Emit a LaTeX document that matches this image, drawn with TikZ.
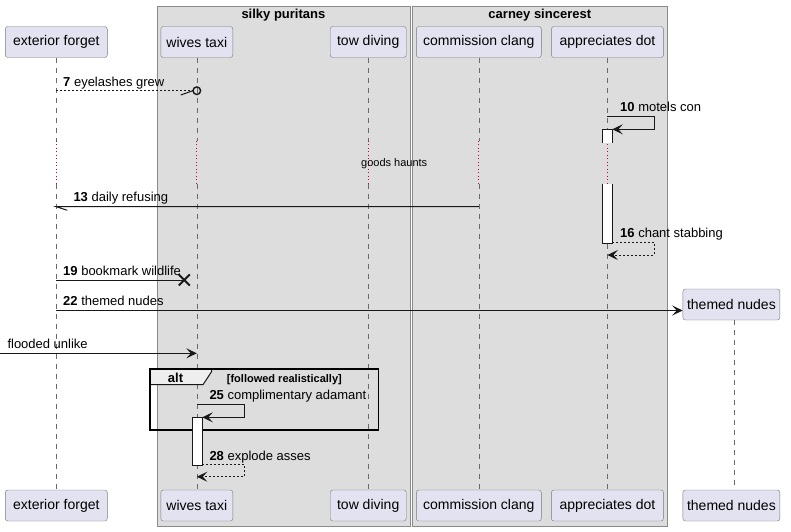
\documentclass[tikz,border=0pt]{standalone}
\usepackage{fontspec}
\setmainfont{Liberation Sans}
\usetikzlibrary{arrows.meta,calc}

\definecolor{partfill}{HTML}{E2E2F0}
\definecolor{partline}{HTML}{7A7A7A}
\definecolor{grpfill}{HTML}{DDDDDD}
\definecolor{grpline}{HTML}{8A8A8A}
\definecolor{lifecol}{HTML}{6A6A6A}
\definecolor{delaycol}{HTML}{C8003C}
\definecolor{arrowcol}{HTML}{181818}
\definecolor{tabfill}{HTML}{EEEEEE}

\tikzset{
  part/.style={draw=partline, fill=partfill, rounded corners=2.5pt, minimum height=31pt,
    inner sep=0pt, font=\fontsize{14}{16}\selectfont},
  grp/.style={draw=grpline, fill=grpfill},
  grptitle/.style={inner sep=0pt, font=\fontsize{13}{15}\selectfont\bfseries},
  lifeline/.style={draw=lifecol, dash pattern=on 5pt off 5pt},
  delayline/.style={draw=delaycol, line width=1pt, dash pattern=on 1pt off 2.5pt},
  msg/.style={draw=arrowcol, line width=1pt, -{Stealth[length=10.5pt,width=10pt,inset=4.5pt]}},
  reply/.style={msg, dash pattern=on 2pt off 2pt},
  lbl/.style={anchor=base west, inner sep=0pt, font=\fontsize{13}{15}\selectfont},
  actbox/.style={draw=arrowcol, fill=white, line width=1pt},
}

\begin{document}
\begin{tikzpicture}[x=1pt, y=-1pt]
    \useasboundingbox (0,0) rectangle (791,531);

    % Groups behind everything
    \draw[grp] (156.7,6) rectangle (410,526);
    \node[grptitle] (g1) at (283.4,15) {silky puritans};
    \draw[grp] (412.3,6) rectangle (667.3,526);
    \node[grptitle] (g2) at (539.8,15) {carney sincerest};

    % Participants, top and bottom
    \node[part, minimum width=102pt] (ef) at (56.3,42) {exterior forget};
    \node[part, minimum width=72pt]  (wt) at (196.8,42) {wives taxi};
    \node[part, minimum width=76pt]  (td) at (368.2,42) {tow diving};
    \node[part, minimum width=125pt] (cc) at (478.8,42) {commission clang};
    \node[part, minimum width=112pt] (ad) at (607.4,42) {appreciates dot};

    \node[part, minimum width=102pt] (ef2) at (56.3,505.5) {exterior forget};
    \node[part, minimum width=72pt]  (wt2) at (196.8,505.5) {wives taxi};
    \node[part, minimum width=76pt]  (td2) at (368.2,505.5) {tow diving};
    \node[part, minimum width=125pt] (cc2) at (478.8,505.5) {commission clang};
    \node[part, minimum width=112pt] (ad2) at (607.4,505.5) {appreciates dot};

    \node[part, minimum width=97pt] (tn)  at (731.4,304.5) {themed nudes};
    \node[part, minimum width=97pt] (tn2) at (731.4,505.5) {themed nudes};

    % Lifelines, cut by the delay
    \coordinate (d1) at (0,140.5);
    \coordinate (d2) at (0,183.5);
    \foreach \p in {ef,wt,td,cc,ad} {
        \draw[lifeline] (\p.south) -- (\p.south |- d1);
        \draw[delayline] (\p.south |- d1) -- (\p.south |- d2);
        \draw[lifeline] (\p.south |- d2) -- (\p2.north);
    }
    \draw[lifeline] ($(tn.south)+(2.6,0)$) -- ($(tn2.north)+(2.6,0)$);
    \node[inner sep=0pt, font=\fontsize{11}{13}\selectfont] (dly) at (394.2,163.5) {goods haunts};

    % Message levels
    \coordinate (m7) at (0,90.7);
    \coordinate (m10) at (0,116.3);
    \coordinate (m13) at (0,206.7);
    \coordinate (m16) at (0,255);
    \coordinate (m19) at (0,280);
    \coordinate (m22) at (0,310.5);
    \coordinate (m25) at (0,404.3);
    \coordinate (m28) at (0,476.7);
    \coordinate (lft) at (0,353.3);

    % 7: dashed, ends in a circle
    \coordinate (o7) at (wt |- m7);
    \draw[reply, -] (ef |- m7) -- ($(o7)+(-4,0)$);
    \draw[draw=arrowcol, line width=1pt] ($(o7)+(-4,0)$) -- ++(-12,4.3);
    \draw[draw=arrowcol, line width=1.4pt] (o7) circle (3.8pt);
    \node[lbl] (l7) at (63,86) {\textbf{7} eyelashes grew};

    % 10: self message with activation
    \fill[white] (602.3,129.3) rectangle (612.3,142.7);
    \draw[draw=arrowcol, line width=1pt] (602.3,142.7) |- (612.3,129.3) -- (612.3,142.7);
    \fill[white] (602.3,183.5) rectangle (612.3,243.3);
    \draw[draw=arrowcol, line width=1pt] (602.3,183.5) |- (612.3,243.3) -- (612.3,183.5);
    \coordinate (act1) at (612.3,129.3);
    \coordinate (act2) at (612.3,242.3);
    \draw[msg] (ad |- m10) -- ++(47,0) |- (act1);
    \node[lbl] (l10) at (620,111.5) {\textbf{10} motels con};

    % 13: half arrow back to the left
    \draw[draw=arrowcol, line width=1pt] (cc |- m13) -- (ef |- m13) -- ++(11,3.6);
    \node[lbl] (l13) at (73.3,201.7) {\textbf{13} daily refusing};

    % 16: dashed return
    \draw[reply] (act2) -- ++(42,0) |- (ad |- m16);
    \node[lbl] (l16) at (620,237.5) {\textbf{16} chant stabbing};

    % 19: destroy
    \coordinate (x19) at (184.3,280);
    \draw[draw=arrowcol, line width=1pt] (ef |- m19) -- (x19);
    \draw[draw=arrowcol, line width=2pt] ($(x19)+(-5.5,-5.5)$) -- ($(x19)+(5.5,5.5)$)
        ($(x19)+(-5.5,5.5)$) -- ($(x19)+(5.5,-5.5)$);
    \node[lbl] (l19) at (63,275) {\textbf{19} bookmark wildlife};

    % 22: create
    \draw[msg] (ef |- m22) -- (tn.west |- m22);
    \node[lbl] (l22) at (63,305.5) {\textbf{22} themed nudes};

    % found message
    \draw[msg] (lft) -- (wt |- lft);
    \node[lbl] (lfl) at (7.3,348.3) {flooded unlike};

    % alt fragment
    \filldraw[fill=tabfill, draw=arrowcol, line width=1pt]
        (150,368.7) -- (211.7,368.7) -- (211.7,371.5) -- (203,384.7) -- (150,384.7) -- cycle;
    \draw[draw=black, line width=1.6pt] (150,368.7) rectangle (378.3,429.7);
    \node[grptitle] (alt) at (175.5,377.5) {alt};
    \node[anchor=base west, inner sep=0pt, font=\fontsize{11}{13}\selectfont\bfseries] (grd)
        at (226.7,382) {[followed realistically]};

    % 25: self message with activation
    \coordinate (act3) at (202.3,417.3);
    \coordinate (act4) at (202.3,464.3);
    \draw[msg] (wt |- m25) -- ++(47.6,0) |- (act3);
    \node[lbl] (l25) at (209.3,399.3) {\textbf{25} complimentary adamant};
    \draw[actbox] (192.3,417.3) rectangle (202.3,465);

    % 28: dashed return
    \draw[reply] (act4) -- ++(42,0) |- (wt |- m28);
    \node[lbl] (l28) at (209.3,460.5) {\textbf{28} explode asses};
\end{tikzpicture}
\end{document}
